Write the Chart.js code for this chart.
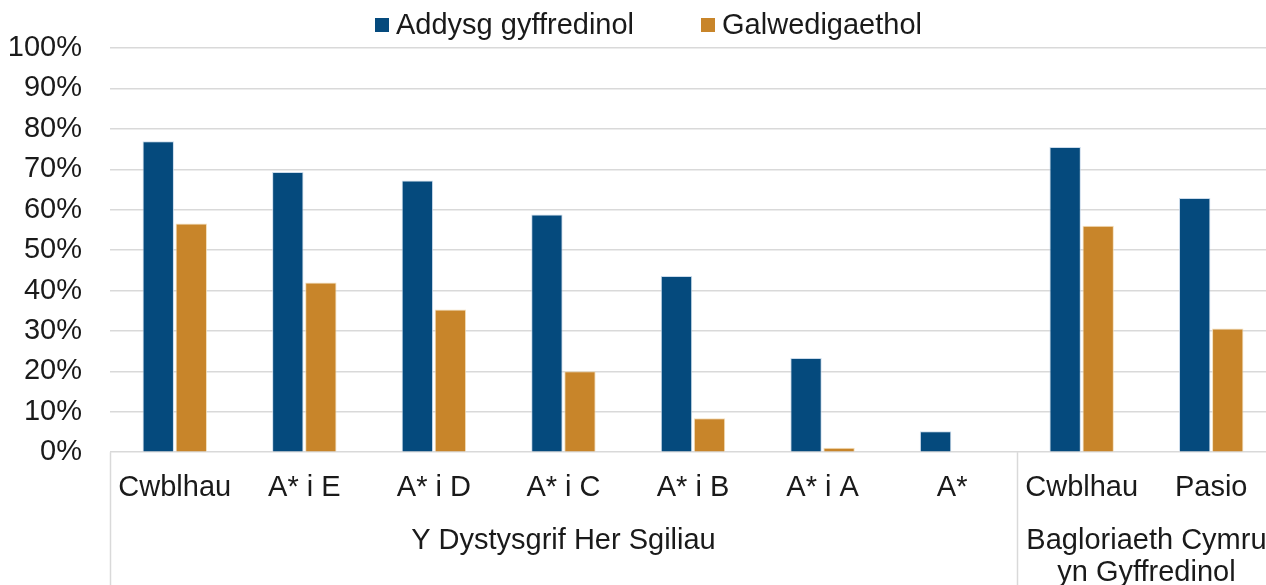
<!DOCTYPE html>
<html>
<head>
<meta charset="utf-8">
<script src="https://cdn.jsdelivr.net/npm/chart.js@4.4.1/dist/chart.umd.min.js"></script>
<style>
  html, body { margin: 0; padding: 0; background: #fff; }
  #wrap { width: 1266px; height: 585px; position: relative; overflow: hidden; }
  #plot { width: 1276px; height: 585px; position: absolute; left: 0; top: 0; }
  #legend { position: absolute; left: 375px; top: 7px; display: flex; align-items: center;
            font: 29px 'Liberation Sans', Arial, sans-serif; color: #1a1a1a; line-height: 34px; z-index: 2; }
  #legend .item { display: flex; align-items: center; margin-right: 67px; white-space: nowrap; }
  #legend .box { width: 14px; height: 14px; margin-right: 7px; margin-top: 2px; }
</style>
</head>
<body>
<div id="wrap"><div id="legend"></div><div id="plot"><canvas id="chart"></canvas></div></div>
<script>
const categories = ['Cwblhau', 'A* i E', 'A* i D', 'A* i C', 'A* i B', 'A* i A', 'A*', 'Cwblhau', 'Pasio'];
const general = [76.9, 69.3, 67.2, 58.8, 43.6, 23.3, 5.2, 75.5, 62.9];
const vocational = [56.6, 42.0, 35.3, 20.0, 8.4, 1.1, 0, 56.0, 30.6];
const groupLabels = [['Y Dystysgrif Her Sgiliau'], ['Bagloriaeth Cymru', 'yn Gyffredinol']];
const groupSpans = [7, 2];
const yTicks = [0, 10, 20, 30, 40, 50, 60, 70, 80, 90, 100];

const FONT = "'Liberation Sans', Arial, sans-serif";
const SIZE = 29;
const BLUE = '#054a7d';
const ORANGE = '#c8852a';
const GRID = '#d9d9d9';
const TEXT = '#1a1a1a';

// second level of the category axis: group names and separators
const groupAxis = {
  id: 'groupAxis',
  afterDraw(chart) {
    const { ctx, chartArea, scales: { x } } = chart;
    const step = x.getPixelForValue(1) - x.getPixelForValue(0);
    ctx.save();
    ctx.strokeStyle = GRID;
    ctx.lineWidth = 1.5;
    ctx.fillStyle = TEXT;
    ctx.font = SIZE + 'px ' + FONT;
    ctx.textAlign = 'center';
    ctx.textBaseline = 'middle';
    let start = 0;
    groupSpans.forEach((span, g) => {
      const left = x.getPixelForValue(start) - step / 2;
      const right = x.getPixelForValue(start + span - 1) + step / 2;
      ctx.beginPath();
      ctx.moveTo(Math.round(left) + 0.5, chartArea.bottom);
      ctx.lineTo(Math.round(left) + 0.5, chart.height);
      ctx.stroke();
      groupLabels[g].forEach((line, i) => {
        ctx.fillText(line, (left + right) / 2, chartArea.bottom + 89 + i * 32);
      });
      start += span;
    });
    ctx.restore();
  }
};

const chart = new Chart(document.getElementById('chart'), {
  type: 'bar',
  data: {
    labels: categories,
    datasets: [
      { label: 'Addysg gyffredinol', data: general, backgroundColor: BLUE, borderColor: 'rgba(190,210,230,0.8)', borderWidth: 1 },
      { label: 'Galwedigaethol', data: vocational, backgroundColor: ORANGE, borderColor: 'rgba(240,215,170,0.8)', borderWidth: 1 },
    ],
  },
  options: {
    responsive: true,
    maintainAspectRatio: false,
    animation: false,
    datasets: { bar: { categoryPercentage: 0.51, barPercentage: 0.95 } },
    layout: { padding: { left: 10, right: 0, top: 48, bottom: 80 } },
    plugins: {
      tooltip: { enabled: false },
      legend: { display: false },
    },
    scales: {
      x: {
        grid: { display: false, drawTicks: true, tickLength: 18, tickColor: 'rgba(0,0,0,0)' },
        border: { display: false },
        ticks: { color: TEXT, padding: 0, maxRotation: 0, autoSkip: false, font: { family: FONT, size: SIZE } },
      },
      y: {
        min: 0,
        max: 100,
        afterBuildTicks: axis => { axis.ticks = yTicks.map(v => ({ value: v })); },
        afterFit: axis => { axis.width = 100; },
        grid: { color: GRID, lineWidth: 1.5, drawTicks: false },
        border: { display: false },
        ticks: { color: TEXT, padding: 28, autoSkip: false, callback: v => v + '%', font: { family: FONT, size: SIZE } },
      },
    },
  },
  plugins: [groupAxis],
});

// legend as html, built from the datasets
document.getElementById('legend').innerHTML = chart.data.datasets.map(ds =>
  `<span class="item"><span class="box" style="background:${ds.backgroundColor}"></span>${ds.label}</span>`
).join('');
</script>
</body>
</html>
